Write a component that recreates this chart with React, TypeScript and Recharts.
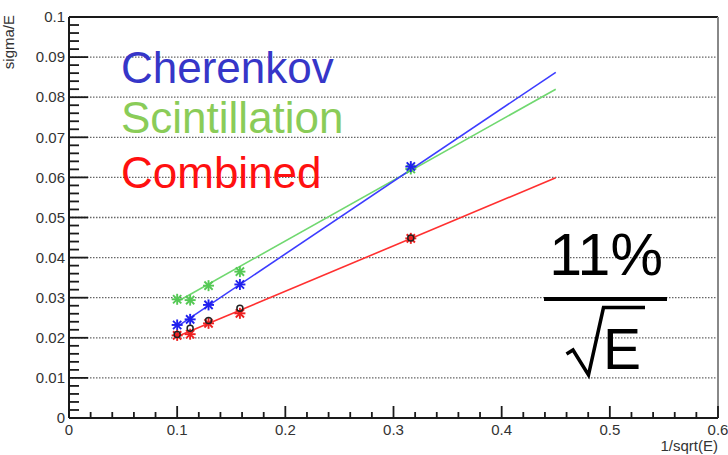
import {
  CartesianGrid,
  Customized,
  Scatter,
  ScatterChart,
  XAxis,
  YAxis,
} from 'recharts';

// 1/sqrt(E) for the beam energies (100, 80, 60, 40, 10 GeV)
const energyX = [0.1, 0.112, 0.129, 0.158, 0.316];
const cherenkov = [0.0232, 0.0246, 0.0282, 0.0333, 0.0627];
const scintillation = [0.0296, 0.0294, 0.033, 0.0365, 0.0621];
const combined = [0.0206, 0.0209, 0.0236, 0.0261, 0.0448];
const combinedAlt = [0.0208, 0.0224, 0.0243, 0.0274, 0.0449];

// straight-line fits, drawn from x=0.1 to x=0.45
const fitX = [0.1, 0.45];
const cherenkovFit = [0.0228, 0.0862];
const scintillationFit = [0.029, 0.082];
const combinedFit = [0.0203, 0.0599];

const xMajor = [0, 0.1, 0.2, 0.3, 0.4, 0.5, 0.6];
const yMajor = [0, 0.01, 0.02, 0.03, 0.04, 0.05, 0.06, 0.07, 0.08, 0.09, 0.1];

// minor ticks every 0.02 on x, every 0.002 on y
const xTicks: number[] = [];
for (let i = 0; i <= 30; i++) xTicks.push(+(i * 0.02).toFixed(3));
const yTicks: number[] = [];
for (let i = 0; i <= 50; i++) yTicks.push(+(i * 0.002).toFixed(4));

const FONT = '"Liberation Sans", Arial, Helvetica, sans-serif';
const AXIS = '#1a1a1a';

const pts = (xs: number[], ys: number[]) => xs.map((x, i) => ({ x, y: ys[i] }));
const isMajor = (v: number, list: number[]) => list.some((m) => Math.abs(m - v) < 1e-6);

const xMinor = xTicks.filter((v) => !isMajor(v, xMajor));
const yMinor = yTicks.filter((v) => !isMajor(v, yMajor));

function YTick(props: any) {
  const { x, y, payload } = props;
  const v = payload.value;
  return (
    <text x={x - 4} y={y} dy="0.35em" textAnchor="end" fontSize={15} fill="#333" fontFamily={FONT}>
      {String(+v.toFixed(2))}
    </text>
  );
}

function XTick(props: any) {
  const { x, y, payload } = props;
  const v = payload.value;
  return (
    <text x={x} y={y + 17} textAnchor="middle" fontSize={15} fill="#333" fontFamily={FONT}>
      {String(+v.toFixed(1))}
    </text>
  );
}

// inward ROOT-style tick marks, placed through the axis scales
const yTickMark = (len: number) => (props: any) => (
  <line x1={props.cx} x2={props.cx + len} y1={props.cy} y2={props.cy} stroke={AXIS} strokeWidth={1.8} />
);
const xTickMark = (len: number) => (props: any) => (
  <line x1={props.cx} x2={props.cx} y1={props.cy} y2={props.cy - len} stroke={AXIS} strokeWidth={1.8} />
);

const star = (color: string) => (props: any) => {
  const { cx, cy } = props;
  const r = 5.5;
  const d = r * 0.75;
  return (
    <g stroke={color} strokeWidth={1.9}>
      <line x1={cx - r} x2={cx + r} y1={cy} y2={cy} />
      <line x1={cx} x2={cx} y1={cy - r} y2={cy + r} />
      <line x1={cx - d} x2={cx + d} y1={cy - d} y2={cy + d} />
      <line x1={cx - d} x2={cx + d} y1={cy + d} y2={cy - d} />
    </g>
  );
};

const ring = (props: any) => {
  const { cx, cy } = props;
  return <circle cx={cx} cy={cy} r={3} fill="none" stroke="#222" strokeWidth={1.5} />;
};

const noShape = () => <g />;

function Annotations() {
  return (
    <g fontFamily={FONT}>
      <text x={14} y={15} transform="rotate(-90 14 15)" textAnchor="end" fontSize={15} fill="#333">
        sigma/E
      </text>
      <text x={718} y={451} textAnchor="end" fontSize={15} fill="#333">
        1/sqrt(E)
      </text>
      <text x={121} y={83} fontSize={44} fill="#3636c8">Cherenkov</text>
      <text x={121} y={133} fontSize={44} fill="#8acc58">Scintillation</text>
      <text x={121} y={188} fontSize={44} fill="#ff1010">Combined</text>
      <text x={606} y={275} textAnchor="middle" fontSize={59} fill="#000">11%</text>
      <rect x={544} y={297} width={123} height={4} fill="#000" />
      <path
        d="M566.5 354 L573 350 L588.5 375 L603.5 307.5 L645 307.5"
        fill="none"
        stroke="#000"
        strokeWidth={3.5}
        strokeLinejoin="miter"
      />
      <text x={603} y={369} fontSize={57} fill="#000">E</text>
    </g>
  );
}

export default function App() {
  return (
    <div style={{ position: 'absolute', left: 0, top: 0, background: '#fff' }}>
      <ScatterChart width={728} height={455} margin={{ top: 17, right: 10, left: 0, bottom: 0 }}>
        <CartesianGrid
          vertical={false}
          horizontalValues={yMajor.slice(1, -1)}
          stroke="#666"
          strokeWidth={1.3}
          strokeDasharray="1.5 1.5"
        />
        <XAxis
          type="number"
          dataKey="x"
          domain={[0, 0.6]}
          ticks={xMajor}
          interval={0}
          tickSize={0}
          tickMargin={0}
          tickLine={false}
          tick={<XTick />}
          height={37}
          axisLine={{ stroke: AXIS, strokeWidth: 2 }}
        />
        <YAxis
          type="number"
          dataKey="y"
          domain={[0, 0.1]}
          ticks={yMajor}
          interval={0}
          tickSize={0}
          tickMargin={0}
          tickLine={false}
          tick={<YTick />}
          width={69}
          axisLine={{ stroke: AXIS, strokeWidth: 2 }}
        />
        {/* frame: top and right edges */}
        <Scatter data={[{ x: 0, y: 0.1 }, { x: 0.6, y: 0.1 }]} line={{ stroke: AXIS, strokeWidth: 2 }} shape={noShape} isAnimationActive={false} />
        <Scatter data={[{ x: 0.6, y: 0.1 }, { x: 0.6, y: 0 }]} line={{ stroke: '#888', strokeWidth: 2 }} shape={noShape} isAnimationActive={false} />
        {/* tick marks */}
        <Scatter data={yMajor.map((y) => ({ x: 0, y }))} shape={yTickMark(19)} isAnimationActive={false} />
        <Scatter data={yMinor.map((y) => ({ x: 0, y }))} shape={yTickMark(10)} isAnimationActive={false} />
        <Scatter data={xMajor.map((x) => ({ x, y: 0 }))} shape={xTickMark(12)} isAnimationActive={false} />
        <Scatter data={xMinor.map((x) => ({ x, y: 0 }))} shape={xTickMark(6)} isAnimationActive={false} />
        {/* fits */}
        <Scatter data={pts(fitX, scintillationFit)} line={{ stroke: '#70d870', strokeWidth: 1.6 }} shape={noShape} isAnimationActive={false} />
        <Scatter data={pts(fitX, cherenkovFit)} line={{ stroke: '#3c3cff', strokeWidth: 1.6 }} shape={noShape} isAnimationActive={false} />
        <Scatter data={pts(fitX, combinedFit)} line={{ stroke: '#ff3030', strokeWidth: 1.6 }} shape={noShape} isAnimationActive={false} />
        {/* measurements */}
        <Scatter data={pts(energyX, scintillation)} shape={star('#55c855')} isAnimationActive={false} />
        <Scatter data={pts(energyX, cherenkov)} shape={star('#2020ee')} isAnimationActive={false} />
        <Scatter data={pts(energyX, combined)} shape={star('#ee2020')} isAnimationActive={false} />
        <Scatter data={pts(energyX, combinedAlt)} shape={ring} isAnimationActive={false} />
        <Customized component={Annotations} />
      </ScatterChart>
    </div>
  );
}
